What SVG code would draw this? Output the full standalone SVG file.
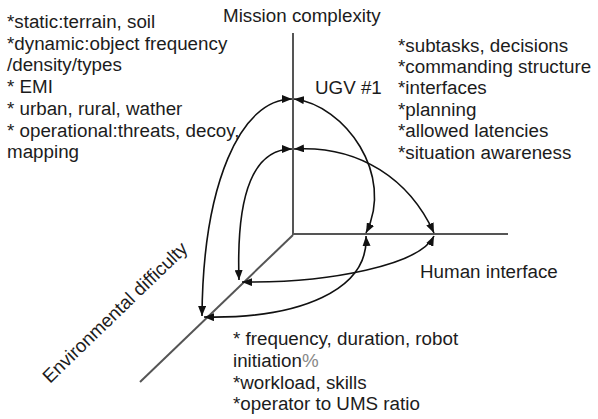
<svg xmlns="http://www.w3.org/2000/svg" width="598" height="419" viewBox="0 0 598 419">
<style>
text{font-family:"Liberation Sans",Arial,sans-serif;font-size:18.8px;fill:#1c1c1c}
.axis{stroke:#555;stroke-width:2;fill:none}
.curve{stroke:#111;stroke-width:1.6;fill:none;marker-start:url(#ah);marker-end:url(#ah)}
</style>
<defs>
<marker id="ah" viewBox="0 0 10 8" refX="10" refY="4" markerWidth="10" markerHeight="8" markerUnits="userSpaceOnUse" orient="auto-start-reverse">
<path d="M0,0 L10,4 L0,8 Z" fill="#111"/>
</marker>
</defs>
<rect width="598" height="419" fill="#fff"/>
<g id="axes">
<line class="axis" x1="293" y1="33" x2="293" y2="235"/>
<line class="axis" x1="292" y1="234" x2="508" y2="234"/>
<line class="axis" x1="293" y1="235" x2="140" y2="382"/>
</g>
<g id="connectors">
<path class="curve" d="M292,99 C240,99 203,185 202,316"/>
<path class="curve" d="M292,149 C255,149 236,190 239,280"/>
<path class="curve" d="M294,99 C345,105 395,175 366,233"/>
<path class="curve" d="M294,149 C360,145 410,180 434,233"/>
<path class="curve" d="M366,236 C369,290 300,319 204,317"/>
<path class="curve" d="M434,236 C420,265 330,283 242,282"/>
</g>
<g id="mission-label"><text x="223" y="22">Mission complexity</text></g>
<g id="ugv-label"><text x="315" y="94">UGV #1</text></g>
<g id="human-label"><text x="420" y="278">Human interface</text></g>
<g id="env-label"><text x="50" y="384" transform="rotate(-44 50 384)">Environmental difficulty</text></g>
<g id="env-notes">
<text x="7" y="28">*static:terrain, soil</text>
<text x="7" y="50">*dynamic:object frequency</text>
<text x="7" y="71">/density/types</text>
<text x="7" y="93">* EMI</text>
<text x="7" y="115">* urban, rural, wather</text>
<text x="7" y="137">* operational:threats, decoy,</text>
<text x="7" y="158">mapping</text>
</g>
<g id="mission-notes">
<text x="398" y="52">*subtasks, decisions</text>
<text x="398" y="73">*commanding structure</text>
<text x="398" y="94">*interfaces</text>
<text x="398" y="116">*planning</text>
<text x="398" y="137">*allowed latencies</text>
<text x="398" y="159">*situation awareness</text>
</g>
<g id="human-notes">
<text x="233" y="345">* frequency, duration, robot</text>
<text x="233" y="367">initiation<tspan fill="#888">%</tspan></text>
<text x="233" y="389">*workload, skills</text>
<text x="233" y="410">*operator to UMS ratio</text>
</g>
</svg>
